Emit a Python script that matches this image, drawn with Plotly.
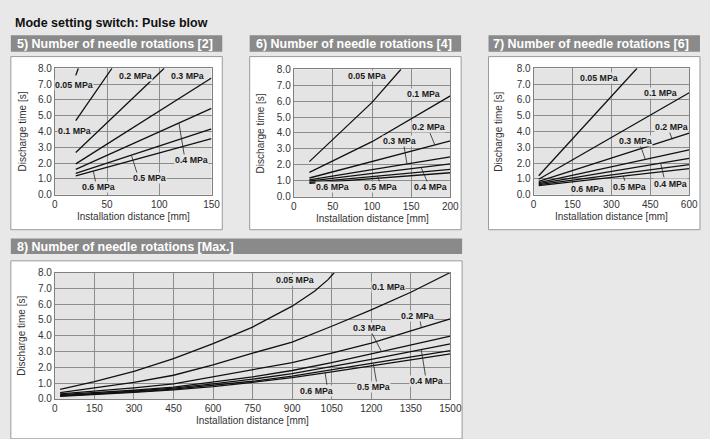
import plotly.graph_objects as go

# ---------------- data ----------------
pressures = ["0.05 MPa", "0.1 MPa", "0.2 MPa", "0.3 MPa", "0.4 MPa", "0.5 MPa", "0.6 MPa"]

# 5) Number of needle rotations [2]
r2_x_005 = [20, 22.5]
r2_y_005 = [7.55, 8.0]
r2_x_01 = [20, 54.7]
r2_y_01 = [4.68, 8.0]
r2_x_02 = [20, 104.7]
r2_y_02 = [2.67, 8.0]
r2_x = [20, 150]
r2_y_03 = [1.95, 7.38]
r2_y_04 = [1.60, 5.46]
r2_y_05 = [1.35, 4.16]
r2_y_06 = [1.19, 3.55]

# 6) Number of needle rotations [4]
r4_x_005 = [20, 100, 137]
r4_y_005 = [2.2, 5.92, 8.0]
r4_x_01 = [20, 100, 200]
r4_y_01 = [1.52, 3.45, 6.33]
r4_x = [20, 200]
r4_y_02 = [1.17, 3.50]
r4_y_03 = [1.05, 2.50]
r4_y_04 = [0.97, 2.06]
r4_y_05 = [0.90, 1.71]
r4_y_06 = [0.83, 1.50]

# 7) Number of needle rotations [6]
r6_x_005 = [20, 399]
r6_y_005 = [1.2, 8.0]
r6_x = [20, 600]
r6_y_01 = [0.98, 6.45]
r6_y_02 = [0.85, 3.90]
r6_y_03 = [0.76, 2.83]
r6_y_04 = [0.70, 2.30]
r6_y_05 = [0.64, 1.90]
r6_y_06 = [0.58, 1.65]

# 8) Number of needle rotations [Max.]
rmax_x_005 = [20, 150, 300, 450, 600, 750, 900, 986, 1036, 1060]
rmax_y_005 = [0.6, 1.1, 1.74, 2.55, 3.5, 4.55, 5.87, 6.83, 7.55, 8.0]
rmax_x = [20, 150, 300, 450, 600, 750, 900, 1050, 1200, 1350, 1500]
rmax_y_01 = [0.40, 0.70, 1.05, 1.50, 2.15, 2.90, 3.60, 4.60, 5.64, 6.75, 8.00]
rmax_y_02 = [0.32, 0.48, 0.70, 0.95, 1.40, 1.85, 2.30, 2.90, 3.53, 4.30, 5.07]
rmax_y_03 = [0.27, 0.38, 0.55, 0.75, 1.08, 1.40, 1.80, 2.30, 2.85, 3.40, 3.98]
rmax_y_04 = [0.23, 0.33, 0.50, 0.68, 0.95, 1.25, 1.60, 2.05, 2.50, 3.00, 3.49]
rmax_y_05 = [0.20, 0.30, 0.45, 0.62, 0.85, 1.12, 1.45, 1.85, 2.26, 2.65, 3.06]
rmax_y_06 = [0.16, 0.27, 0.42, 0.58, 0.78, 1.05, 1.35, 1.72, 2.10, 2.48, 2.85]

page_title = "Mode setting switch: Pulse blow"
panel_titles = ["5) Number of needle rotations [2]", "6) Number of needle rotations [4]",
                "7) Number of needle rotations [6]", "8) Number of needle rotations [Max.]"]
x_title = "Installation distance [mm]"
y_title = "Discharge time [s]"

# ---------------- styling / layout ----------------
W, H = 710, 439
FONT = "Liberation Sans, Arial, Helvetica, sans-serif"
PAGE_BG = "#e8e8e8"
PLOT_BG = "#e4e4e4"
HEADER_BG = "#8a8a8a"
GRID = "#8c8c8c"
LINE = "#111111"
TXT = "#333333"


def fx(p):
    return p / W


def fy(p):
    return 1 - p / H


# plot areas in pixels: (x0, x1, ytop, ybottom)
areas = [(53, 213, 64, 194), (297, 457, 65, 196), (542, 701, 64, 194), (53, 457, 274, 404)]
xmax = [150, 200, 600, 1500]
xdt = [50, 50, 150, 150]
boxes = [(8, 52, 224, 230), (252, 52, 468, 230), (496, 52, 712, 230), (8, 262, 469, 445)]
headers = [(8, 30, 224, 47, 12), (252, 30, 468, 47, 256), (496, 30, 712, 47, 499), (8, 239, 469, 255, 12)]

series = [
    [(r2_x_005, r2_y_005), (r2_x_01, r2_y_01), (r2_x_02, r2_y_02), (r2_x, r2_y_03),
     (r2_x, r2_y_04), (r2_x, r2_y_05), (r2_x, r2_y_06)],
    [(r4_x_005, r4_y_005), (r4_x_01, r4_y_01), (r4_x, r4_y_02), (r4_x, r4_y_03),
     (r4_x, r4_y_04), (r4_x, r4_y_05), (r4_x, r4_y_06)],
    [(r6_x_005, r6_y_005), (r6_x, r6_y_01), (r6_x, r6_y_02), (r6_x, r6_y_03),
     (r6_x, r6_y_04), (r6_x, r6_y_05), (r6_x, r6_y_06)],
    [(rmax_x_005, rmax_y_005), (rmax_x, rmax_y_01), (rmax_x, rmax_y_02), (rmax_x, rmax_y_03),
     (rmax_x, rmax_y_04), (rmax_x, rmax_y_05), (rmax_x, rmax_y_06)],
]

# label placements: (pressure index, x, y, leader or None)
labels = [
    [(0, 18.75, 6.93, None), (1, 18.75, 4.06, None), (2, 77.2, 7.51, None), (3, 127.2, 7.51, None),
     (4, 131.2, 2.17, (124, 2.48, 118.8, 4.53)), (5, 90.6, 1.03, (79, 1.30, 73.5, 2.45)),
     (6, 41.5, 0.47, (39, 0.82, 36.8, 1.49))],
    [(0, 93.75, 7.57, None), (1, 165.8, 6.45, None), (2, 172, 4.36, (174, 3.99, 180, 3.27)),
     (3, 135.4, 3.5, (140.8, 3.18, 144.6, 2.06)), (6, 49, 0.59, None),
     (5, 111, 0.59, (109.6, 0.93, 107, 1.29)), (4, 175, 0.59, (170.8, 0.90, 162.5, 1.85))],
    [(0, 251.6, 7.38, None), (1, 490.6, 6.46, None), (2, 532, 4.27, (524.5, 3.96, 534.7, 3.5)),
     (3, 393.7, 3.38, (412.6, 3.08, 431.5, 2.2)), (6, 207.5, 0.33, None),
     (5, 371, 0.49, (352, 0.88, 346, 1.18)), (4, 528, 0.68, (503, 1.09, 490.6, 1.95))],
    [(0, 909, 7.5, None), (1, 1266, 7.08, None), (2, 1377, 5.25, (1385, 4.95, 1390, 4.5)),
     (3, 1193, 4.49, (1202, 4.18, 1239, 2.99)), (4, 1408, 1.15, (1406, 1.43, 1390, 3.1)),
     (5, 1210, 0.76, (1220, 1.07, 1208, 2.22)), (6, 991, 0.49, (1032, 0.9, 1025, 1.64))],
]

fig = go.Figure()
shapes = []
annotations = []

annotations.append(dict(text="<b>" + page_title + "</b>", xref="paper", yref="paper",
                        x=fx(10), y=fy(17.5), xanchor="left", yanchor="middle", showarrow=False,
                        font=dict(family=FONT, size=12.5, color="#111")))

for i in range(4):
    sfx = "" if i == 0 else str(i + 1)
    xa, ya = "x" + sfx, "y" + sfx
    bx0, by0, bx1, by1 = boxes[i]
    shapes.append(dict(type="rect", xref="paper", yref="paper", x0=fx(bx0), x1=fx(bx1),
                       y0=fy(by1), y1=fy(by0), fillcolor="#ffffff",
                       line=dict(color="#9a9a9a", width=1), layer="below"))
    hx0, hy0, hx1, hy1, tx = headers[i]
    shapes.append(dict(type="rect", xref="paper", yref="paper", x0=fx(hx0), x1=fx(hx1),
                       y0=fy(hy1), y1=fy(hy0), fillcolor=HEADER_BG, line=dict(width=0), layer="below"))
    annotations.append(dict(text="<b>" + panel_titles[i] + "</b>", xref="paper", yref="paper",
                            x=fx(tx), y=fy((hy0 + hy1) / 2 + 0.5), xanchor="left", yanchor="middle",
                            showarrow=False, font=dict(family=FONT, size=12.5, color="#ffffff")))
    ax0, ax1, ay0, ay1 = areas[i]
    shapes.append(dict(type="rect", xref="paper", yref="paper", x0=fx(ax0), x1=fx(ax1),
                       y0=fy(ay1), y1=fy(ay0), fillcolor=PLOT_BG, line=dict(width=0), layer="below"))

    for xs, ys in series[i]:
        fig.add_trace(go.Scatter(x=xs, y=ys, mode="lines", line=dict(color=LINE, width=1.3),
                                 xaxis=xa, yaxis=ya, showlegend=False, hoverinfo="skip"))

    common = dict(showgrid=True, gridcolor=GRID, gridwidth=1, showline=True, linecolor="#808080",
                  linewidth=1, mirror=True, zeroline=False, ticks="", fixedrange=True,
                  tickfont=dict(family=FONT, size=10, color=TXT))
    fig.layout["xaxis" + sfx] = dict(domain=[fx(ax0), fx(ax1)], range=[0, xmax[i]], dtick=xdt[i], tick0=0,
                                     anchor=ya, **common)
    fig.layout["yaxis" + sfx] = dict(domain=[fy(ay1), fy(ay0)], range=[0, 8], dtick=1, tick0=0,
                                     tickformat=".1f", anchor=xa, **common)

    # axis titles
    annotations.append(dict(text=x_title, xref="paper", yref="paper", x=fx((ax0 + ax1) / 2),
                            y=fy(ay1 + 22), xanchor="center", yanchor="middle", showarrow=False,
                            font=dict(family=FONT, size=10, color=TXT)))
    ytx = 19.5 if i in (0, 3) else (263 if i == 1 else 506)
    annotations.append(dict(text=y_title, xref="paper", yref="paper", x=fx(ytx),
                            y=fy((ay0 + ay1) / 2), xanchor="center", yanchor="middle", showarrow=False,
                            textangle=-90, font=dict(family=FONT, size=10, color=TXT)))

    for pi, lx, ly, leader in labels[i]:
        annotations.append(dict(text="<b>" + pressures[pi] + "</b>", xref=xa, yref=ya, x=lx, y=ly,
                                xanchor="center", yanchor="middle", showarrow=False, bgcolor=PLOT_BG,
                                borderpad=0, font=dict(family=FONT, size=8.8, color="#1a1a1a")))
        if leader:
            shapes.append(dict(type="line", xref=xa, yref=ya, x0=leader[0], y0=leader[1],
                               x1=leader[2], y1=leader[3], line=dict(color="#222", width=0.8),
                               layer="above"))

fig.update_layout(width=W, height=H, margin=dict(l=0, r=0, t=0, b=0), paper_bgcolor=PAGE_BG,
                  plot_bgcolor="rgba(0,0,0,0)", shapes=shapes, annotations=annotations,
                  font=dict(family=FONT))

fig.write_html("out.html", config={"displayModeBar": False},
               post_script="document.body.style.margin='0';document.body.style.overflow='hidden';"
                           "document.documentElement.style.overflow='hidden';")
